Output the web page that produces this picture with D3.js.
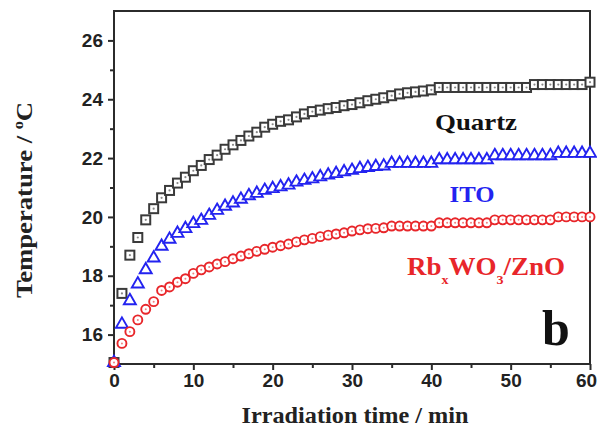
<!DOCTYPE html>
<html>
<head>
<meta charset="utf-8">
<script src="https://cdn.jsdelivr.net/npm/d3@7"></script>
<style>
  body { margin: 0; background: #fff; }
  svg { display: block; }
</style>
</head>
<body>
<svg id="chart" width="597" height="427"></svg>
<script>
// irradiation time (min)
const times = [0, 1, 2, 3, 4, 5, 6, 7, 8, 9, 10, 11, 12, 13, 14, 15, 16, 17, 18, 19,
  20, 21, 22, 23, 24, 25, 26, 27, 28, 29, 30, 31, 32, 33, 34, 35, 36, 37, 38, 39,
  40, 41, 42, 43, 44, 45, 46, 47, 48, 49, 50, 51, 52, 53, 54, 55, 56, 57, 58, 59, 60];

// temperature (oC) per substrate
const quartz = [15.05, 17.4, 18.7, 19.3, 19.9, 20.28, 20.65, 20.9, 21.15, 21.35,
  21.57, 21.75, 21.95, 22.1, 22.3, 22.45, 22.6, 22.75, 22.88, 23.05,
  23.15, 23.25, 23.3, 23.4, 23.5, 23.58, 23.63, 23.68, 23.72, 23.78,
  23.82, 23.88, 23.95, 24.0, 24.05, 24.12, 24.18, 24.22, 24.25, 24.28,
  24.32, 24.4, 24.4, 24.4, 24.4, 24.4, 24.4, 24.4, 24.4, 24.4,
  24.4, 24.4, 24.4, 24.5, 24.5, 24.5, 24.5, 24.5, 24.5, 24.5, 24.58];

const ito = [15.05, 16.35, 17.15, 17.72, 18.2, 18.6, 19.0, 19.24, 19.44, 19.6,
  19.77, 19.88, 20.05, 20.22, 20.36, 20.47, 20.6, 20.72, 20.8, 20.9,
  20.96, 21.02, 21.08, 21.18, 21.24, 21.29, 21.36, 21.42, 21.47, 21.53,
  21.58, 21.64, 21.68, 21.71, 21.73, 21.82, 21.82, 21.82, 21.82, 21.82,
  21.82, 21.94, 21.94, 21.94, 21.94, 21.94, 21.94, 21.94, 22.08, 22.08,
  22.08, 22.08, 22.08, 22.08, 22.08, 22.08, 22.16, 22.16, 22.16, 22.16, 22.16];

const rbwo = [15.05, 15.7, 16.1, 16.5, 16.86, 17.12, 17.5, 17.62, 17.78, 17.9,
  18.08, 18.2, 18.3, 18.4, 18.48, 18.58, 18.67, 18.75, 18.83, 18.9,
  18.97, 19.02, 19.08, 19.15, 19.22, 19.27, 19.33, 19.38, 19.42, 19.46,
  19.52, 19.56, 19.6, 19.61, 19.63, 19.69, 19.69, 19.69, 19.69, 19.69,
  19.69, 19.8, 19.8, 19.8, 19.8, 19.8, 19.8, 19.8, 19.9, 19.9,
  19.9, 19.9, 19.9, 19.9, 19.9, 19.9, 20.0, 20.0, 20.0, 20.0, 20.0];

const xMajor = [0, 10, 20, 30, 40, 50, 60];
const xMinor = [5, 15, 25, 35, 45, 55];
const yMajor = [16, 18, 20, 22, 24, 26];
const yMinor = [17, 19, 21, 23, 25];

const margin = {top: 11, right: 7, bottom: 63, left: 114};
const width = 597 - margin.left - margin.right;
const height = 427 - margin.top - margin.bottom;

const svg = d3.select('#chart');
const g = svg.append('g').attr('transform', `translate(${margin.left},${margin.top})`);

const x = d3.scaleLinear().domain([0, 60]).range([0, width]);
const y = d3.scaleLinear().domain([15, 27]).range([height, 0]);

const tickFont = '"Liberation Sans", Arial, sans-serif';
const serif = '"Liberation Serif", "Times New Roman", serif';
const axisColor = '#2b2b2b';

// axes
g.append('g').attr('transform', `translate(0,${height})`)
  .call(d3.axisBottom(x).tickValues(xMajor).tickSize(6).tickPadding(4).tickFormat(d3.format('d')));
g.append('g').attr('transform', `translate(0,${height})`)
  .call(d3.axisBottom(x).tickValues(xMinor).tickSize(4).tickFormat(''));
g.append('g')
  .call(d3.axisLeft(y).tickValues(yMajor).tickSize(6).tickPadding(5).tickFormat(d3.format('d')));
g.append('g')
  .call(d3.axisLeft(y).tickValues(yMinor).tickSize(4).tickFormat(''));

g.selectAll('.domain').remove();
g.selectAll('.tick line').attr('stroke', axisColor).attr('stroke-width', 2);
g.selectAll('.tick text')
  .attr('fill', '#222')
  .style('font-family', tickFont)
  .style('font-weight', 'bold')
  .style('font-size', '19px');
// last x label sits on the page edge; nudge it inside
g.selectAll('.tick text').filter(d => d === 60).attr('dx', -4);

// frame
g.append('rect')
  .attr('x', 0).attr('y', 0)
  .attr('width', width).attr('height', height)
  .attr('fill', 'none')
  .attr('stroke', axisColor)
  .attr('stroke-width', 2);

// series
const series = [
  {name: 'Quartz', values: quartz, color: '#3a3a3a', shape: 'square'},
  {name: 'ITO', values: ito, color: '#2323f0', shape: 'triangle'},
  {name: 'RbWO', values: rbwo, color: '#e8262a', shape: 'circle'}
];

series.forEach(s => {
  const pts = times.map((t, i) => ({t: t, v: s.values[i]}));
  const layer = g.append('g');
  if (s.shape === 'square') {
    layer.selectAll('rect').data(pts).join('rect')
      .attr('x', d => x(d.t) - 4.5).attr('y', d => y(d.v) - 4.5)
      .attr('width', 9).attr('height', 9)
      .attr('fill', '#fff').attr('stroke', s.color).attr('stroke-width', 2);
    layer.selectAll('circle').data(pts).join('circle')
      .attr('cx', d => x(d.t)).attr('cy', d => y(d.v)).attr('r', 1.1)
      .attr('fill', '#888');
  } else if (s.shape === 'triangle') {
    const tri = d3.symbol().type(d3.symbolTriangle).size(62);
    layer.selectAll('path').data(pts).join('path')
      .attr('d', tri)
      .attr('transform', d => `translate(${x(d.t)},${y(d.v)})`)
      .attr('fill', '#fff').attr('stroke', s.color).attr('stroke-width', 1.9);
  } else {
    layer.selectAll('circle').data(pts).join('circle')
      .attr('cx', d => x(d.t)).attr('cy', d => y(d.v)).attr('r', 4.5)
      .attr('fill', '#fff').attr('stroke', s.color).attr('stroke-width', 1.9);
    layer.selectAll('circle.dot').data(pts).join('circle')
      .attr('class', 'dot')
      .attr('cx', d => x(d.t)).attr('cy', d => y(d.v)).attr('r', 1)
      .attr('fill', '#f08080');
  }
});

// series labels
g.append('text')
  .attr('x', 476 - margin.left).attr('y', 130 - margin.top)
  .attr('text-anchor', 'middle')
  .attr('textLength', 82).attr('lengthAdjust', 'spacingAndGlyphs')
  .style('font-family', serif).style('font-weight', 'bold').style('font-size', '24px')
  .attr('fill', '#111')
  .text('Quartz');

g.append('text')
  .attr('x', 472 - margin.left).attr('y', 202 - margin.top)
  .attr('text-anchor', 'middle')
  .attr('textLength', 45).attr('lengthAdjust', 'spacingAndGlyphs')
  .style('font-family', serif).style('font-weight', 'bold').style('font-size', '24px')
  .attr('fill', '#2323f0')
  .text('ITO');

const rb = g.append('text')
  .attr('transform', `translate(${407 - margin.left},${275 - margin.top}) scale(1.08,1)`)
  .style('font-family', serif).style('font-weight', 'bold').style('font-size', '25px')
  .attr('fill', '#e8262a');
rb.append('tspan').text('Rb');
rb.append('tspan').attr('dy', 9).style('font-size', '13px').text('x');
rb.append('tspan').attr('dy', -9).text('WO');
rb.append('tspan').attr('dy', 9).style('font-size', '13px').text('3');
rb.append('tspan').attr('dy', -9).text('/ZnO');

g.append('text')
  .attr('x', 556 - margin.left).attr('y', 345 - margin.top)
  .attr('text-anchor', 'middle')
  .style('font-family', serif).style('font-weight', 'bold').style('font-size', '50px')
  .attr('fill', '#111')
  .text('b');

// axis titles
svg.append('text')
  .attr('x', 355).attr('y', 423)
  .attr('text-anchor', 'middle')
  .attr('textLength', 227).attr('lengthAdjust', 'spacingAndGlyphs')
  .style('font-family', serif).style('font-weight', 'bold').style('font-size', '24px')
  .attr('fill', '#222')
  .text('Irradiation time / min');

const yt = svg.append('text')
  .attr('transform', 'translate(32,200) rotate(-90) scale(1.16,1)')
  .attr('text-anchor', 'middle')
  .style('font-family', serif).style('font-weight', 'bold').style('font-size', '23px')
  .attr('fill', '#222');
yt.append('tspan').text('Temperature / ');
yt.append('tspan').attr('dy', -9).style('font-size', '14px').text('o');
yt.append('tspan').attr('dy', 9).text('C');
</script>
</body>
</html>
